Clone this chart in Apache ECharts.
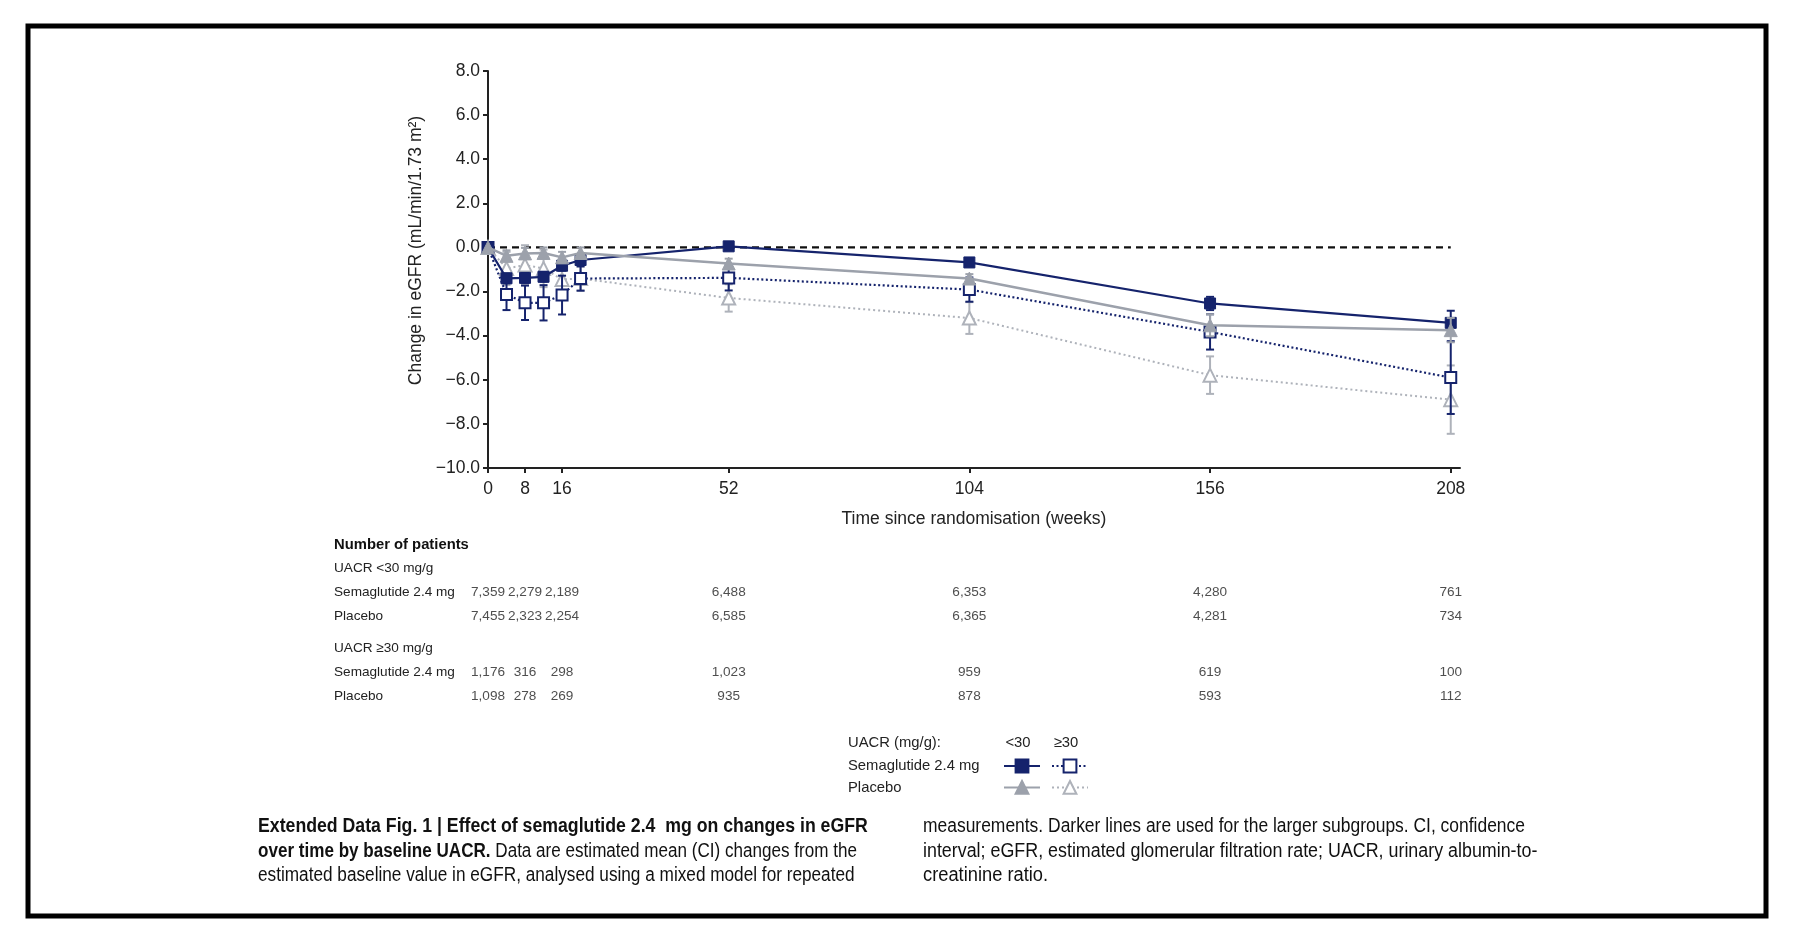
<!DOCTYPE html>
<html>
<head>
<meta charset="utf-8">
<script src="https://cdn.jsdelivr.net/npm/echarts@6/dist/echarts.min.js"></script>
<style>
  html, body { margin: 0; padding: 0; background: #fff; }
  #chart { width: 1794px; height: 942px; }
</style>
</head>
<body>
<div id="chart"></div>
<script>
// ---------- data ----------
const weeks = [0, 4, 8, 12, 16, 20, 52, 104, 156, 208];

const semaLt30      = [0, -1.40, -1.38, -1.33, -0.83, -0.57, 0.05, -0.68, -2.54, -3.42];
const semaLt30Err   = [0, 0.22, 0.22, 0.22, 0.22, 0.2, 0.12, 0.15, 0.3, 0.55];
const placLt30      = [0, -0.38, -0.27, -0.25, -0.45, -0.25, -0.73, -1.41, -3.53, -3.75];
const placLt30Err   = [0, 0.25, 0.25, 0.25, 0.25, 0.25, 0.22, 0.2, 0.5, 0.55];
const semaGe30      = [0, -2.13, -2.51, -2.51, -2.16, -1.41, -1.38, -1.91, -3.83, -5.90];
const semaGe30Err   = [0, 0.71, 0.78, 0.80, 0.88, 0.55, 0.57, 0.55, 0.80, 1.65];
const placGe30      = [0, -0.95, -0.80, -0.95, -1.45, -1.41, -2.29, -3.20, -5.79, -6.90];
const placGe30Err   = [0, 0.75, 0.90, 0.85, 0.60, 0.55, 0.62, 0.72, 0.85, 1.55];

const zeroLine = [[0, 0], [208, 0]];

const xTickValues = [0, 8, 16, 52, 104, 156, 208];
const yTickMin = -10, yTickMax = 8, yTickStep = 2;

const nWeeks        = [0, 8, 16, 52, 104, 156, 208];
const nSemaLt30     = [7359, 2279, 2189, 6488, 6353, 4280, 761];
const nPlacLt30     = [7455, 2323, 2254, 6585, 6365, 4281, 734];
const nSemaGe30     = [1176, 316, 298, 1023, 959, 619, 100];
const nPlacGe30     = [1098, 278, 269, 935, 878, 593, 112];
const rowNames      = ['Semaglutide 2.4 mg', 'Placebo'];

// ---------- styles ----------
const NAVY = '#15236c';
const GREY = '#9ca1ab';
const LGREY = '#aeb2ba';
const FONT = '"Liberation Sans", Arial, Helvetica, sans-serif';
const CAPFONT = '"Liberation Sans", Arial, sans-serif';
const CAPSIZE = 20;

const chart = echarts.init(document.getElementById('chart'), null, { renderer: 'canvas' });

function pts(vals) { return weeks.map((w, i) => [w, vals[i]]); }
function errData(vals, errs) {
  const out = [];
  weeks.forEach((w, i) => { if (errs[i] > 0) out.push([w, vals[i] - errs[i], vals[i] + errs[i]]); });
  return out;
}
function errSeries(vals, errs, color, width, z) {
  return {
    type: 'custom', xAxisIndex: 0, yAxisIndex: 0, z: z, silent: true,
    data: errData(vals, errs),
    renderItem: function (params, api) {
      const x = api.value(0);
      const top = api.coord([x, api.value(2)]);
      const bot = api.coord([x, api.value(1)]);
      const cw = 4;
      const st = { stroke: color, lineWidth: width, fill: null };
      return {
        type: 'group',
        children: [
          { type: 'line', shape: { x1: top[0], y1: top[1], x2: bot[0], y2: bot[1] }, style: st },
          { type: 'line', shape: { x1: top[0] - cw, y1: top[1], x2: top[0] + cw, y2: top[1] }, style: st },
          { type: 'line', shape: { x1: bot[0] - cw, y1: bot[1], x2: bot[0] + cw, y2: bot[1] }, style: st }
        ]
      };
    }
  };
}
function countSeries(vals, rowName, gridIdx) {
  return {
    type: 'scatter', xAxisIndex: gridIdx, yAxisIndex: gridIdx, silent: true,
    symbolSize: 1, itemStyle: { color: 'rgba(0,0,0,0)' },
    data: nWeeks.map((w, i) => [w, rowName, vals[i]]),
    label: {
      show: true, position: 'inside', color: '#222', fontFamily: FONT, fontSize: 13.6,
      formatter: p => p.value[2].toLocaleString('en-US')
    }
  };
}
function capText(x, y, text, sx, rich) {
  return {
    type: 'text', x: x, y: y, scaleX: sx, silent: true,
    style: {
      text: text, verticalAlign: 'middle', fill: '#111',
      font: CAPSIZE + 'px ' + CAPFONT,
      rich: rich || undefined
    }
  };
}
const capRich = {
  b: { fontFamily: CAPFONT, fontSize: CAPSIZE, fontWeight: 'bold', fill: '#111' },
  r: { fontFamily: CAPFONT, fontSize: CAPSIZE, fill: '#111' }
};

const gridLeft = 488, gridWidth = 972, xMax = 210;

const option = {
  backgroundColor: '#fff',
  animation: false,
  grid: [
    { left: gridLeft, top: 71, width: gridWidth, height: 397 },
    { left: gridLeft, top: 580, width: gridWidth, height: 48 },
    { left: gridLeft, top: 660, width: gridWidth, height: 48 }
  ],
  xAxis: [
    {
      gridIndex: 0, type: 'value', min: 0, max: xMax,
      name: 'Time since randomisation (weeks)', nameLocation: 'middle', nameGap: 42,
      nameTextStyle: { fontFamily: FONT, fontSize: 17.5, color: '#222' },
      axisLine: { show: true, onZero: false, lineStyle: { color: '#222', width: 2 } },
      axisTick: { show: true, length: 5, lineStyle: { color: '#222', width: 2 }, customValues: xTickValues },
      axisLabel: { fontFamily: FONT, fontSize: 17.5, color: '#222', margin: 12, customValues: xTickValues },
      splitLine: { show: false }
    },
    { gridIndex: 1, type: 'value', min: 0, max: xMax, show: false },
    { gridIndex: 2, type: 'value', min: 0, max: xMax, show: false }
  ],
  yAxis: [
    {
      gridIndex: 0, type: 'value', min: yTickMin, max: yTickMax, interval: yTickStep,
      name: 'Change in eGFR (mL/min/1.73 m\u00B2)', nameLocation: 'middle', nameGap: 60, nameRotate: 90,
      nameTextStyle: { fontFamily: FONT, fontSize: 17.5, color: '#222', padding: [0, 0, 0, 38] },
      axisLine: { show: true, onZero: false, lineStyle: { color: '#222', width: 2 } },
      axisTick: { show: true, length: 5, lineStyle: { color: '#222', width: 2 } },
      axisLabel: {
        fontFamily: FONT, fontSize: 17.5, color: '#222', margin: 8,
        formatter: v => (v < 0 ? '\u2212' : '') + Math.abs(v).toFixed(1)
      },
      splitLine: { show: false }
    },
    {
      gridIndex: 1, type: 'category', data: rowNames, inverse: true,
      axisLine: { show: false }, axisTick: { show: false }, splitLine: { show: false },
      axisLabel: { align: 'left', margin: gridLeft - 334, fontFamily: FONT, fontSize: 13.6, color: '#222' }
    },
    {
      gridIndex: 2, type: 'category', data: rowNames, inverse: true,
      axisLine: { show: false }, axisTick: { show: false }, splitLine: { show: false },
      axisLabel: { align: 'left', margin: gridLeft - 334, fontFamily: FONT, fontSize: 13.6, color: '#222' }
    }
  ],
  legend: [
    {
      data: ['Semaglutide 2.4 mg <30', 'Placebo <30'], padding: 0,
      orient: 'vertical', left: 1003, top: 758, itemWidth: 36, itemHeight: 16, itemGap: 6,
      formatter: () => '', selectedMode: false, textStyle: { fontSize: 1 }
    },
    {
      data: ['Semaglutide 2.4 mg \u226530', 'Placebo \u226530'], padding: 0,
      orient: 'vertical', left: 1051, top: 758, itemWidth: 36, itemHeight: 16, itemGap: 6,
      formatter: () => '', selectedMode: false, textStyle: { fontSize: 1 }
    }
  ],
  graphic: [
    { type: 'rect', shape: { x: 28, y: 26, width: 1738, height: 890 }, style: { stroke: '#000', lineWidth: 5, fill: null }, silent: true },
    { type: 'text', x: 334, y: 545, style: { text: 'Number of patients', font: 'bold 14.8px ' + FONT, fill: '#111', verticalAlign: 'middle' } },
    { type: 'text', x: 334, y: 568, style: { text: 'UACR <30 mg/g', font: '13.6px ' + FONT, fill: '#222', verticalAlign: 'middle' } },
    { type: 'text', x: 334, y: 648, style: { text: 'UACR \u226530 mg/g', font: '13.6px ' + FONT, fill: '#222', verticalAlign: 'middle' } },
    { type: 'text', x: 848, y: 743, style: { text: 'UACR (mg/g):', font: '14.8px ' + FONT, fill: '#222', verticalAlign: 'middle' } },
    { type: 'text', x: 1018, y: 743, style: { text: '<30', font: '14.8px ' + FONT, fill: '#222', align: 'center', verticalAlign: 'middle' } },
    { type: 'text', x: 1066, y: 743, style: { text: '\u226530', font: '14.8px ' + FONT, fill: '#222', align: 'center', verticalAlign: 'middle' } },
    { type: 'text', x: 848, y: 766, style: { text: 'Semaglutide 2.4 mg', font: '14.8px ' + FONT, fill: '#222', verticalAlign: 'middle' } },
    { type: 'text', x: 848, y: 788, style: { text: 'Placebo', font: '14.8px ' + FONT, fill: '#222', verticalAlign: 'middle' } },
    capText(258, 826, '{b|Extended Data Fig. 1 | Effect of semaglutide 2.4  mg on changes in eGFR}', 0.885, capRich),
    capText(258, 851, '{b|over time by baseline UACR.}{r| Data are estimated mean (CI) changes from the}', 0.854, capRich),
    capText(258, 875, 'estimated baseline value in eGFR, analysed using a mixed model for repeated', 0.86),
    capText(923, 826, 'measurements. Darker lines are used for the larger subgroups. CI, confidence', 0.872),
    capText(923, 851, 'interval; eGFR, estimated glomerular filtration rate; UACR, urinary albumin-to-', 0.893),
    capText(923, 875, 'creatinine ratio.', 0.915)
  ],
  series: [
    {
      name: 'zero', type: 'line', z: 1, silent: true, data: zeroLine, symbol: 'none',
      lineStyle: { color: '#111', width: 2.2, type: [7, 5] }
    },
    errSeries(placGe30, placGe30Err, LGREY, 2, 2),
    {
      name: 'Placebo \u226530', type: 'line', z: 3, data: pts(placGe30),
      symbol: 'triangle', symbolSize: 13, showAllSymbol: true,
      lineStyle: { color: LGREY, width: 2, type: [2, 3] },
      itemStyle: { color: '#fff', borderColor: LGREY, borderWidth: 2 }
    },
    errSeries(semaGe30, semaGe30Err, NAVY, 2, 4),
    {
      name: 'Semaglutide 2.4 mg \u226530', type: 'line', z: 5, data: pts(semaGe30),
      symbol: 'rect', symbolSize: 11, showAllSymbol: true,
      lineStyle: { color: NAVY, width: 2.2, type: [2, 2.5] },
      itemStyle: { color: '#fff', borderColor: NAVY, borderWidth: 2 }
    },
    errSeries(semaLt30, semaLt30Err, NAVY, 2, 6),
    {
      name: 'Semaglutide 2.4 mg <30', type: 'line', z: 7, data: pts(semaLt30),
      symbol: 'rect', symbolSize: 11, showAllSymbol: true,
      lineStyle: { color: NAVY, width: 2.2 },
      itemStyle: { color: NAVY, borderColor: NAVY, borderWidth: 1 }
    },
    errSeries(placLt30, placLt30Err, GREY, 2, 8),
    {
      name: 'Placebo <30', type: 'line', z: 9, data: pts(placLt30),
      symbol: 'triangle', symbolSize: 13, showAllSymbol: true,
      lineStyle: { color: GREY, width: 2.5 },
      itemStyle: { color: GREY, borderColor: GREY, borderWidth: 1 }
    },
    countSeries(nSemaLt30, rowNames[0], 1),
    countSeries(nPlacLt30, rowNames[1], 1),
    countSeries(nSemaGe30, rowNames[0], 2),
    countSeries(nPlacGe30, rowNames[1], 2)
  ]
};

chart.setOption(option);
</script>
</body>
</html>
